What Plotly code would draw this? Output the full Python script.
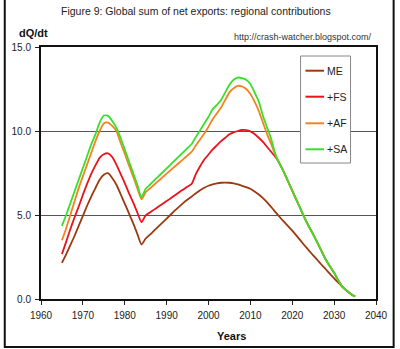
import plotly.graph_objects as go

# Annual values, 1965-2035 (cumulative regional contributions, dQ/dt)
years = list(range(1965, 2036))

me = [2.15, 2.65, 3.2, 3.75, 4.35, 4.95, 5.55, 6.1, 6.6, 7.1,
      7.4, 7.49, 7.2, 6.8, 6.25, 5.68, 5.1, 4.52, 3.88, 3.24,
      3.6, 3.83, 4.07, 4.31, 4.55, 4.79, 5.03, 5.27, 5.5, 5.72,
      5.92, 6.1, 6.3, 6.47, 6.62, 6.74, 6.82, 6.88, 6.92, 6.93,
      6.92, 6.88, 6.82, 6.74, 6.66, 6.56, 6.4, 6.22, 6.0, 5.75,
      5.47, 5.17, 4.88, 4.6, 4.34, 4.07, 3.77, 3.47, 3.17, 2.88,
      2.6, 2.32, 2.04, 1.77, 1.5, 1.23, 0.97, 0.72, 0.5, 0.3,
      0.15]

plus_fs = [2.67, 3.4, 4.15, 4.85, 5.5, 6.2, 6.85, 7.45, 7.95, 8.4,
           8.62, 8.67, 8.45, 8.0, 7.45, 6.9, 6.3, 5.75, 5.15, 4.58,
           4.98, 5.15, 5.32, 5.49, 5.66, 5.83, 6.0, 6.17, 6.35, 6.52,
           6.69, 6.86, 7.45, 7.9, 8.3, 8.6, 8.9, 9.15, 9.4, 9.6,
           9.8, 9.92, 10.0, 10.06, 10.05, 9.98, 9.82, 9.6, 9.35, 9.05,
           8.75, 8.45, 8.05, 7.55, 7.0, 6.45, 5.9, 5.35, 4.8, 4.3,
           3.85, 3.35, 2.85, 2.35, 1.95, 1.56, 1.1, 0.72, 0.5, 0.3,
           0.15]

plus_af = [3.5, 4.2, 5.0, 5.8, 6.6, 7.3, 8.0, 8.7, 9.4, 10.0,
           10.45, 10.5, 10.3, 10.0, 9.3, 8.65, 7.95, 7.3, 6.6, 5.93,
           6.36, 6.58, 6.8, 7.02, 7.24, 7.46, 7.68, 7.9, 8.11, 8.33,
           8.55, 8.77, 9.15, 9.5, 9.85, 10.25, 10.7, 11.05, 11.4, 11.85,
           12.3, 12.55, 12.69, 12.65, 12.5, 12.2, 11.75, 11.2, 10.5, 9.8,
           9.2, 8.55, 8.05, 7.55, 7.0, 6.45, 5.9, 5.35, 4.8, 4.3,
           3.85, 3.35, 2.85, 2.35, 1.95, 1.56, 1.1, 0.72, 0.5, 0.3,
           0.15]

plus_sa = [4.35, 5.0, 5.7, 6.4, 7.1, 7.8, 8.5, 9.2, 9.8, 10.5,
           10.92, 10.9, 10.6, 10.2, 9.6, 8.9, 8.2, 7.5, 6.8, 6.06,
           6.56, 6.8, 7.05, 7.29, 7.53, 7.77, 8.02, 8.26, 8.5, 8.74,
           8.99, 9.23, 9.65, 10.05, 10.45, 10.85, 11.3, 11.55, 11.85, 12.3,
           12.75, 13.05, 13.18, 13.15, 13.05, 12.8, 12.3, 11.75, 10.9, 10.2,
           9.5, 8.6, 8.05, 7.55, 7.0, 6.45, 5.9, 5.35, 4.8, 4.3,
           3.85, 3.35, 2.85, 2.35, 1.95, 1.56, 1.1, 0.72, 0.5, 0.3,
           0.15]

series_names = ["ME", "+FS", "+AF", "+SA"]
series_values = [me, plus_fs, plus_af, plus_sa]
series_colors = ["#9A3A10", "#E8141C", "#F5821F", "#3ADF2A"]

x_ticks = [1960, 1970, 1980, 1990, 2000, 2010, 2020, 2030, 2040]
y_ticks = [0, 5, 10, 15]
y_tick_text = ["0.0", "5.0", "10.0", "15.0"]

FONT = "Liberation Sans, Arial, sans-serif"

fig = go.Figure()
for name, vals, col in zip(series_names, series_values, series_colors):
    fig.add_trace(go.Scatter(
        x=years, y=vals, name=name, mode="lines", showlegend=False,
        line=dict(color=col, width=1.8, shape="spline", smoothing=0.6),
    ))

# plot area spans px 38..380 horizontally, 47..299 vertically
L, R, T, B = 38, 20, 47, 50
W, H = 400, 349
pw, ph = W - L - R, H - T - B


def px_x(p):
    return (p - L) / pw


def px_y(p):
    return (H - B - p) / ph


annotations = [
    dict(text="Figure 9: Global sum of net exports: regional contributions",
         x=px_x(196), y=px_y(11), xref="paper", yref="paper",
         showarrow=False, font=dict(size=10.5, color="#222"),
         xanchor="center", yanchor="middle"),
    dict(text="<b>dQ/dt</b>", x=px_x(13), y=px_y(33),
         xref="paper", yref="paper", showarrow=False,
         font=dict(size=11, color="#111"),
         xanchor="left", yanchor="middle"),
    dict(text="http://crash-watcher.blogspot.com/", x=px_x(378), y=px_y(37),
         xref="paper", yref="paper", showarrow=False,
         font=dict(size=9, color="#333"),
         xanchor="right", yanchor="middle"),
    dict(text="<b>Years</b>", x=px_x(232), y=px_y(336),
         xref="paper", yref="paper", showarrow=False,
         font=dict(size=11, color="#111"),
         xanchor="center", yanchor="middle"),
]

shapes = [
    # outer frame
    dict(type="rect", xref="paper", yref="paper",
         x0=px_x(1), x1=px_x(398), y0=px_y(347), y1=px_y(-5),
         line=dict(color="#111", width=2), fillcolor="rgba(0,0,0,0)",
         layer="below"),
    # legend box
    dict(type="rect", xref="paper", yref="paper",
         x0=px_x(303), x1=px_x(354), y0=px_y(163), y1=px_y(56),
         line=dict(color="#888", width=1), fillcolor="white", layer="above"),
]

# legend entries: short line sample plus label
legend_rows = [70.7, 96.7, 123.3, 149.3]
for name, col, ry in zip(series_names, series_colors, legend_rows):
    shapes.append(dict(type="line", xref="paper", yref="paper",
                       x0=px_x(308), x1=px_x(327), y0=px_y(ry), y1=px_y(ry),
                       line=dict(color=col, width=2), layer="above"))
    annotations.append(dict(text=name, x=px_x(329), y=px_y(ry),
                            xref="paper", yref="paper", showarrow=False,
                            font=dict(size=10.5, color="#222"),
                            xanchor="left", yanchor="middle", borderpad=0))

fig.update_layout(
    width=W, height=H,
    margin=dict(l=L, r=R, t=T, b=B, pad=0),
    paper_bgcolor="white", plot_bgcolor="white",
    font=dict(family=FONT, size=10, color="#222"),
    showlegend=False,
    xaxis=dict(
        range=[1960, 2040], tickvals=x_ticks,
        ticks="outside", ticklen=4, tickcolor="#222", tickwidth=1,
        ticklabelstandoff=2,
        showline=True, linecolor="#111", linewidth=2, mirror=True,
        showgrid=False, zeroline=False,
        tickfont=dict(size=10, color="#222"),
    ),
    yaxis=dict(
        range=[0, 15], tickvals=y_ticks, ticktext=y_tick_text,
        ticks="outside", ticklen=4, tickcolor="#222", tickwidth=1,
        ticklabelstandoff=2,
        showline=True, linecolor="#111", linewidth=2, mirror=True,
        showgrid=True, gridcolor="#555", gridwidth=1, zeroline=False,
        tickfont=dict(size=10, color="#222"),
    ),
    annotations=annotations,
    shapes=shapes,
)

fig.write_html("out.html")
